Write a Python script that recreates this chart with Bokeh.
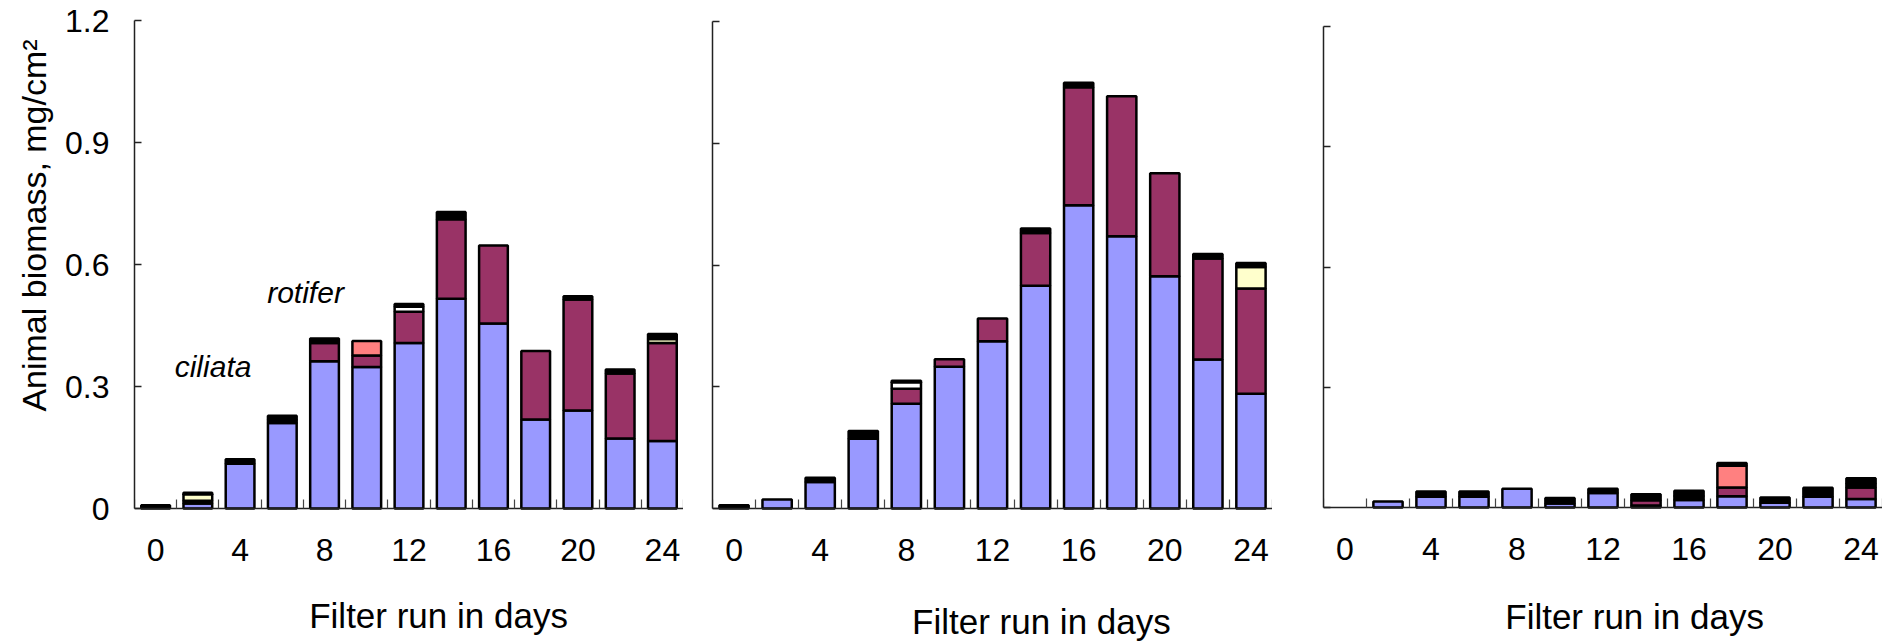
import math
from bokeh.plotting import figure
from bokeh.models import Range1d, FixedTicker, Label
from bokeh.layouts import row
from bokeh.embed import file_html
from bokeh.resources import INLINE

# ---------------- data ----------------
days = [0, 2, 4, 6, 8, 10, 12, 14, 16, 18, 20, 22, 24]
tick_days = [0, 4, 8, 12, 16, 20, 24]
boundary_ticks = [-1, 1, 3, 5, 7, 9, 11, 13, 15, 17, 19, 21, 23, 25]
y_ticks = [0, 0.3, 0.6, 0.9, 1.2]
y_tick_labels = ["0", "0.3", "0.6", "0.9", "1.2"]

series_names = ["ciliata", "rotifer", "group_dark", "group_coral",
                "group_cream", "group_white", "group_black_cap"]
series_colors = ["#9999FF", "#993366", "#000000", "#FF8080",
                 "#FFFFCC", "#FFFFFF", "#000000"]

# panel 1
p1_ciliata = [0, 0.012, 0.110, 0.210, 0.362, 0.348, 0.407, 0.516, 0.455, 0.219, 0.241, 0.172, 0.166]
p1_rotifer = [0, 0, 0, 0, 0.045, 0.028, 0.077, 0.195, 0.192, 0.168, 0.273, 0.160, 0.241]
p1_dark = [0, 0.007, 0, 0.008, 0, 0, 0, 0, 0, 0, 0, 0, 0]
p1_coral = [0, 0, 0, 0, 0, 0.036, 0, 0, 0, 0, 0, 0, 0]
p1_cream = [0, 0.016, 0, 0, 0, 0, 0, 0, 0, 0, 0, 0, 0.010]
p1_white = [0, 0, 0, 0, 0, 0, 0.012, 0, 0, 0, 0, 0, 0]
p1_cap = [0.008, 0.004, 0.011, 0.010, 0.011, 0, 0.007, 0.018, 0, 0, 0.008, 0.010, 0.012]

# panel 2
p2_ciliata = [0, 0.022, 0.065, 0.172, 0.258, 0.349, 0.412, 0.549, 0.747, 0.671, 0.572, 0.367, 0.283]
p2_rotifer = [0, 0, 0, 0, 0.037, 0.019, 0.056, 0.130, 0.291, 0.345, 0.254, 0.249, 0.259]
p2_dark = [0, 0, 0, 0, 0, 0, 0, 0, 0, 0, 0, 0, 0]
p2_coral = [0, 0, 0, 0, 0, 0, 0, 0, 0, 0, 0, 0, 0]
p2_cream = [0, 0, 0, 0, 0, 0, 0, 0, 0, 0, 0, 0, 0.053]
p2_white = [0, 0, 0, 0, 0.016, 0, 0, 0, 0, 0, 0, 0, 0]
p2_cap = [0.008, 0, 0.011, 0.019, 0.004, 0, 0, 0.011, 0.011, 0, 0, 0.011, 0.010]

# panel 3
p3_ciliata = [0, 0.015, 0.027, 0.027, 0.047, 0.010, 0.036, 0.005, 0.019, 0.028, 0.012, 0.027, 0.021]
p3_rotifer = [0, 0, 0, 0, 0, 0, 0, 0.013, 0, 0.022, 0, 0, 0.029]
p3_dark = [0, 0, 0, 0, 0, 0, 0, 0, 0.010, 0, 0, 0, 0.010]
p3_coral = [0, 0, 0, 0, 0, 0, 0, 0, 0, 0.054, 0, 0, 0]
p3_cream = [0, 0, 0, 0, 0, 0, 0, 0, 0, 0, 0, 0, 0]
p3_white = [0, 0, 0, 0, 0, 0, 0, 0, 0, 0, 0, 0, 0]
p3_cap = [0, 0, 0.013, 0.013, 0, 0.014, 0.011, 0.015, 0.013, 0.007, 0.013, 0.022, 0.013]

x_title = "Filter run in days"
y_title = "Animal biomass, mg/cm\u00b2"

FONT = "Liberation Sans"
TICK_FONT = "'Liberation Sans Narrow', 'Arial Narrow', 'Liberation Sans', sans-serif"
BAR_W = 1.36
H = 642
Y_MAX = 1.2


def make_panel(series, width, left, top, zero_px, title_x, title_mid_px, show_ylabels):
    # frame spans from `top` to the bottom of the canvas; value 0 sits at pixel row zero_px
    px_per_unit = (zero_px - top) / Y_MAX
    y_min = -(H - zero_px) / px_per_unit
    p = figure(width=width, height=H, output_backend="svg", toolbar_location=None,
               title_location=None, frame_align=False,
               x_range=Range1d(-1, 25), y_range=Range1d(y_min, Y_MAX),
               min_border_left=left, min_border_right=0,
               min_border_top=top, min_border_bottom=0)
    p.outline_line_color = None
    p.grid.visible = False
    p.background_fill_color = "white"
    p.border_fill_color = "white"

    base = [0.0] * len(days)
    for vals, color in zip(series, series_colors):
        xs, bots, tops = [], [], []
        for i, v in enumerate(vals):
            if v > 0:
                xs.append(days[i])
                bots.append(base[i])
                tops.append(base[i] + v)
            base[i] += v
        if xs:
            p.vbar(x=xs, bottom=bots, top=tops, width=BAR_W, fill_color=color,
                   line_color="black", line_width=2.5)

    xa = p.xaxis[0]
    xa.fixed_location = 0
    xa.ticker = FixedTicker(ticks=tick_days, minor_ticks=boundary_ticks)
    xa.major_tick_in = 0
    xa.major_tick_out = 0
    xa.minor_tick_in = 9
    xa.minor_tick_out = 0
    xa.minor_tick_line_color = "#444444"
    xa.minor_tick_line_width = 1.2
    xa.axis_line_color = "#222222"
    xa.axis_line_width = 1.5
    xa.major_label_text_font = TICK_FONT
    xa.major_label_text_font_size = "32px"
    xa.major_label_text_color = "black"
    xa.major_label_standoff = 30

    ya = p.yaxis[0]
    ya.bounds = (0, Y_MAX)
    ya.ticker = FixedTicker(ticks=y_ticks, minor_ticks=[])
    ya.major_tick_in = 7
    ya.major_tick_out = 0
    ya.major_tick_line_color = "#222222"
    ya.major_tick_line_width = 1.5
    ya.axis_line_color = "#222222"
    ya.axis_line_width = 1.5
    ya.major_label_text_font = TICK_FONT
    ya.major_label_text_font_size = "32px"
    ya.major_label_text_color = "black"
    ya.major_label_standoff = 25
    if show_ylabels:
        ya.major_label_overrides = {t: s for t, s in zip(y_ticks, y_tick_labels)}
    else:
        ya.major_label_overrides = {t: "" for t in y_ticks}

    p.add_layout(Label(x=title_x, y=-(title_mid_px - zero_px) / px_per_unit, text=x_title,
                       text_font=FONT, text_font_size="35px", text_align="center",
                       text_baseline="alphabetic", text_color="black"))
    return p


p1 = make_panel([p1_ciliata, p1_rotifer, p1_dark, p1_coral, p1_cream, p1_white, p1_cap],
                628, 79, 20, 508, 13.4, 615, True)
p2 = make_panel([p2_ciliata, p2_rotifer, p2_dark, p2_coral, p2_cream, p2_white, p2_cap],
                589, 29, 21, 508, 14.27, 621, False)
p3 = make_panel([p3_ciliata, p3_rotifer, p3_dark, p3_coral, p3_cream, p3_white, p3_cap],
                610, 51, 26, 507, 13.47, 616, False)

p1.add_layout(Label(x=2.72, y=0.348, text="ciliata", text_font=FONT, text_font_size="30px",
                    text_font_style="italic", text_align="center", text_baseline="alphabetic",
                    text_color="black"))
p1.add_layout(Label(x=7.1, y=0.530, text="rotifer", text_font=FONT, text_font_size="30px",
                    text_font_style="italic", text_align="center", text_baseline="alphabetic",
                    text_color="black"))

# y-axis title strip (left of panel 1)
yfig = figure(width=55, height=H, output_backend="svg", toolbar_location=None,
              title_location=None, frame_align=False,
              x_range=Range1d(0, 55), y_range=Range1d(0, H),
              x_axis_location=None, y_axis_location=None,
              min_border_left=0, min_border_right=0, min_border_top=0, min_border_bottom=0)
yfig.outline_line_color = None
yfig.grid.visible = False
yfig.border_fill_color = "white"
yfig.add_layout(Label(x=33, y=H - 225, text=y_title, angle=math.pi / 2, text_font=FONT,
                      text_font_size="34px", text_align="center", text_baseline="alphabetic",
                      text_color="black"))

layout = row(yfig, p1, p2, p3, spacing=0)
open("out.html", "w").write(file_html(layout, INLINE))
